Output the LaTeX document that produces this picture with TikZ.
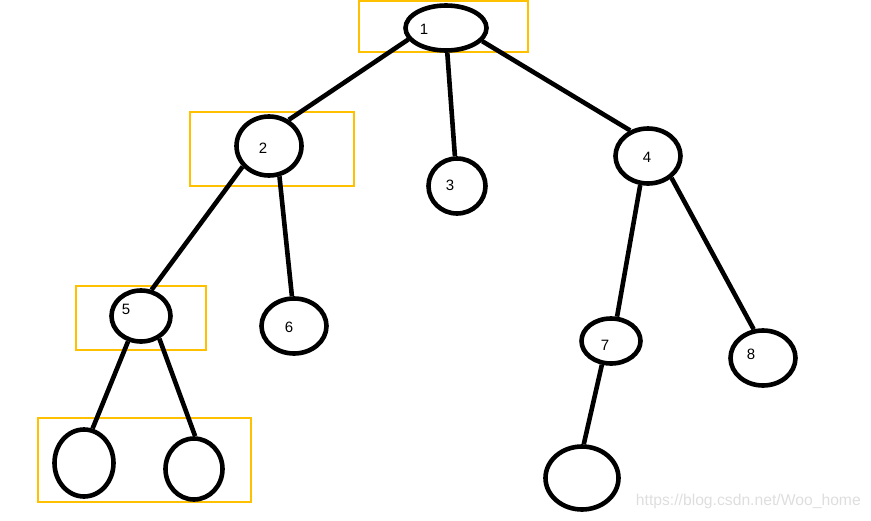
\documentclass[tikz,border=0pt]{standalone}
\usepackage{fontspec}
\setmainfont{Liberation Sans}
\usetikzlibrary{shapes.geometric}
\definecolor{boxorange}{RGB}{255,192,0}

\begin{document}
\begin{tikzpicture}[x=1pt,y=-1pt,
    vertex/.style={ellipse,draw,line width=4.6pt,inner sep=0pt},
    frame/.style={draw=boxorange,line width=2.8pt},
    edge/.style={line width=4.6pt},
    num/.style={font=\fontsize{15}{17}\selectfont,inner sep=0pt}]
    \useasboundingbox (0,0) rectangle (871,520);

    % 画黄色的框
    \draw[frame] (359,1) rectangle (528,52);
    \draw[frame] (190,112) rectangle (354,186);
    \draw[frame] (76,286) rectangle (206,350);
    \draw[frame] (38,418) rectangle (251,502);

    % 画树的结点
    \node[vertex,minimum width=81pt,minimum height=45pt] (n1) at (446,28) {};
    \node[vertex,minimum width=65pt,minimum height=59pt] (n2) at (269,146) {};
    \node[vertex,minimum width=57pt,minimum height=55pt] (n3) at (457,186) {};
    \node[vertex,minimum width=65pt,minimum height=55pt] (n4) at (648,156) {};
    \node[vertex,minimum width=59pt,minimum height=51pt] (n5) at (141,316) {};
    \node[vertex,minimum width=65pt,minimum height=55pt] (n6) at (294,326) {};
    \node[vertex,minimum width=59pt,minimum height=45pt] (n7) at (611,341) {};
    \node[vertex,minimum width=65pt,minimum height=55pt] (n8) at (763,358) {};
    \node[vertex,minimum width=59pt,minimum height=67pt] (la) at (84,463) {};
    \node[vertex,minimum width=57pt,minimum height=61pt] (lb) at (194,469) {};
    \node[vertex,minimum width=73pt,minimum height=63pt] (lc) at (582,478) {};

    % 画结点之间的连线
    \draw[edge] (n1.197) -- (n2.53);
    \draw[edge] (n1.273) -- (n3.94);
    \draw[edge] (n1.340) -- (n4.125);
    \draw[edge] (n2.218) -- (n5.68);
    \draw[edge] (n2.289) -- (n6.94);
    \draw[edge] (n4.255) -- (n7.76);
    \draw[edge] (n4.317) -- (n8.108);
    \draw[edge] (n5.243) -- (la.76);
    \draw[edge] (n5.309) -- (lb.88);
    \draw[edge] (n7.249) -- (lc.87);

    % 标注结点的编号
    \node[num] (t1) at (424,29) {1};
    \node[num] (t2) at (263,148) {2};
    \node[num] (t3) at (450,185) {3};
    \node[num] (t4) at (647,157) {4};
    \node[num] (t5) at (126,309) {5};
    \node[num] (t6) at (289,327) {6};
    \node[num] (t7) at (605,345) {7};
    \node[num] (t8) at (751,354) {8};

    % 水印
    \node[font=\fontsize{15.7}{17}\selectfont,text=black!13,inner sep=0pt,anchor=east] (mark) at (861,501) {https://blog.csdn.net/Woo\_home};
\end{tikzpicture}
\end{document}
